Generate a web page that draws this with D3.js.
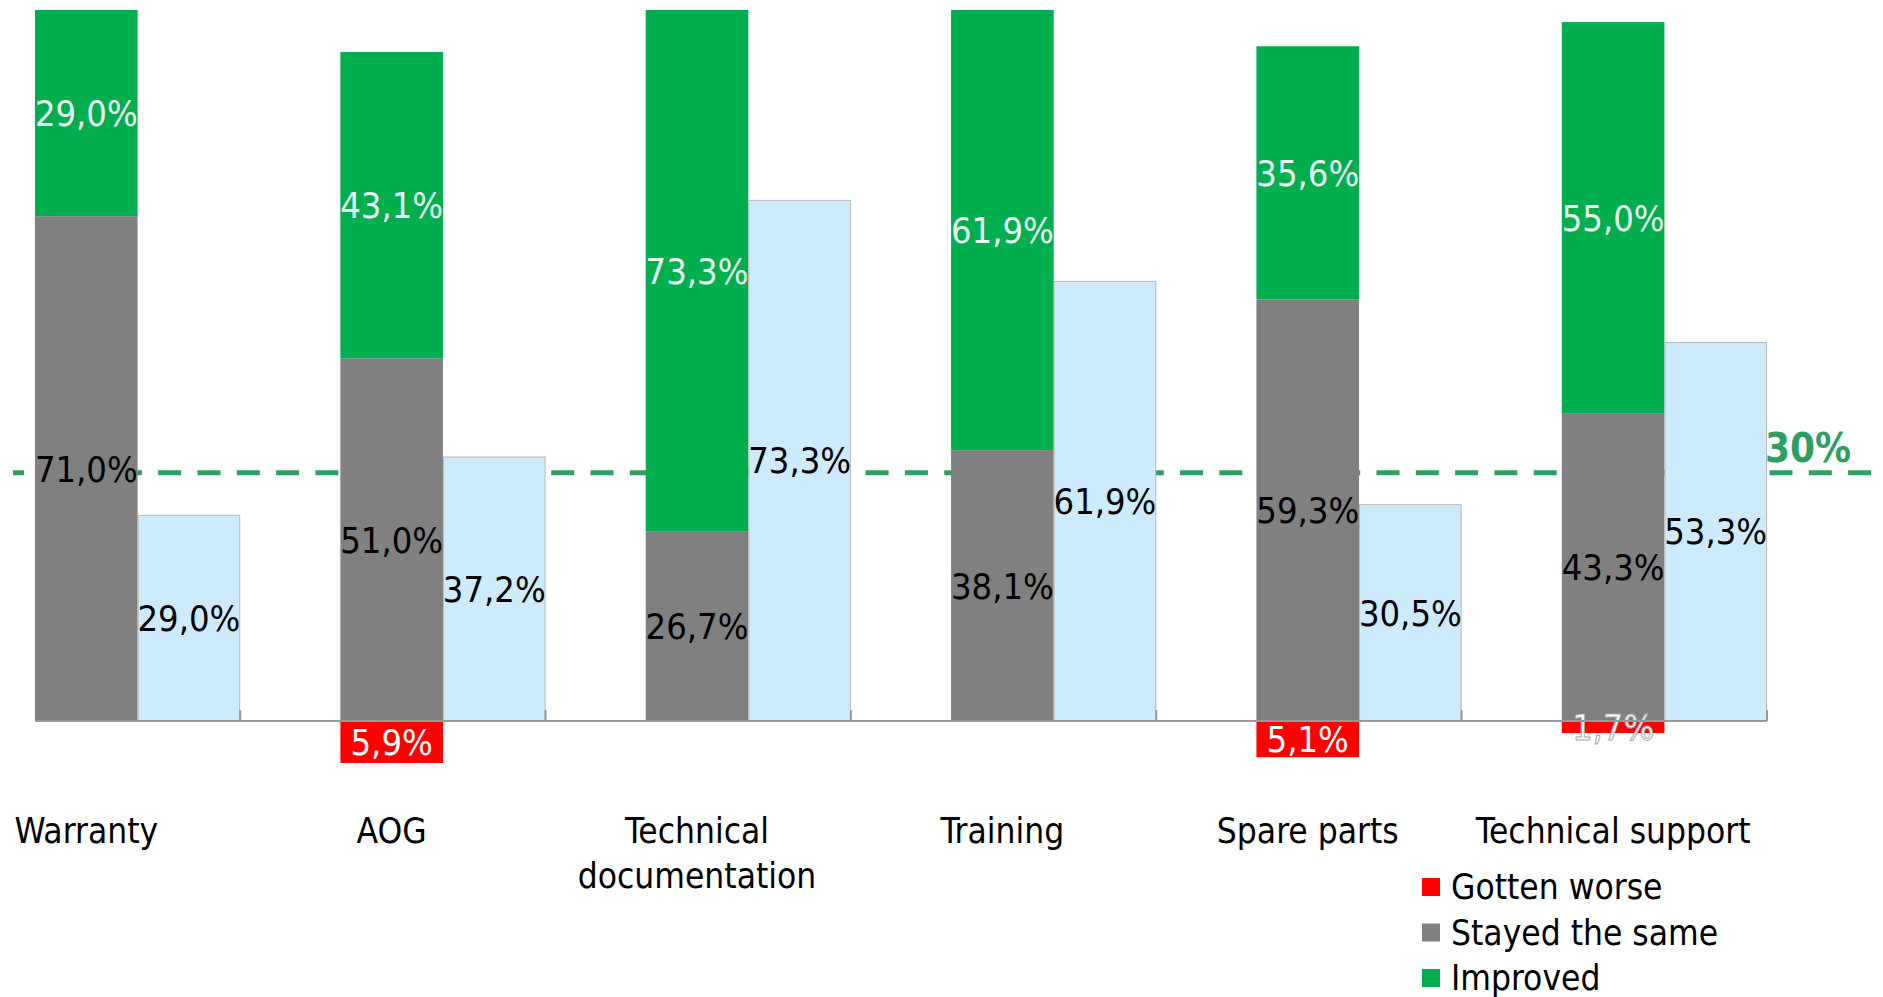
<!DOCTYPE html>
<html>
<head>
<meta charset="utf-8">
<script src="https://cdn.jsdelivr.net/npm/d3@7"></script>
<style>
	body { margin: 0; background: #fff; }
	svg text { font-family: "DejaVu Sans Condensed", "DejaVu Sans", sans-serif; }
</style>
</head>
<body>
<svg class="chart"></svg>
<script>
// chart values
const categories = ["Warranty", "AOG", "Technical documentation", "Training", "Spare parts", "Technical support"];
const gottenWorse = [0, 5.9, 0, 0, 5.1, 1.7];
const stayedSame = [71.0, 51.0, 26.7, 38.1, 59.3, 43.3];
const improved = [29.0, 43.1, 73.3, 61.9, 35.6, 55.0];
const netImproved = [29.0, 37.2, 73.3, 61.9, 30.5, 53.3];
const legendItems = ["Gotten worse", "Stayed the same", "Improved"];
const targetValue = 34.9;
const targetLabel = "30%";

const size = { w: 1883, h: 997 };
const colors = { worse: "#ff0000", same: "#808080", improved: "#00ad4f", net: "#cdebfc", target: "#2e9e62" };

const svg = d3.select("svg.chart").attr("width", size.w).attr("height", size.h);

const xScale = d3.scaleBand().domain(categories).range([35, 1767]).paddingInner(0.328).paddingOuter(0);
const subScale = d3.scaleBand().domain(["stack", "net"]).range([0, xScale.bandwidth()]);
const yScale = d3.scaleLinear().domain([0, 100]).range([721, 10]);

const locale = d3.formatLocale({ decimal: ",", thousands: ".", grouping: [3], currency: ["", "€"] });
const fmt = (v) => locale.format(".1f")(v) + "%";

const data = categories.map((c, i) => ({
	cat: c,
	worse: gottenWorse[i],
	same: stayedSame[i],
	improved: improved[i],
	net: netImproved[i],
}));

// target line (behind bars)
svg.append("line")
	.attr("x1", 13)
	.attr("x2", size.w)
	.attr("y1", yScale(targetValue))
	.attr("y2", yScale(targetValue))
	.attr("stroke", colors.target)
	.attr("stroke-width", 5)
	.attr("stroke-dasharray", "23 16.3")
	.attr("stroke-dashoffset", 12);

svg.append("text")
	.attr("x", 1765)
	.attr("y", yScale(targetValue) - 11)
	.attr("fill", colors.target)
	.attr("font-size", 40)
	.attr("font-weight", "bold")
	.text(targetLabel);

const barsG = svg.append("g").classed("bars", true);
const groups = barsG.selectAll("g")
	.data(data)
	.join("g")
	.attr("transform", (d) => `translate(${xScale(d.cat)},0)`);

const sx = subScale("stack");
const bw = subScale.bandwidth();

// stacked segments
groups.append("rect")
	.attr("x", sx).attr("width", bw)
	.attr("y", (d) => yScale(d.same))
	.attr("height", (d) => yScale(0) - yScale(d.same))
	.attr("fill", colors.same);

groups.append("rect")
	.attr("x", sx).attr("width", bw)
	.attr("y", (d) => yScale(d.same + d.improved))
	.attr("height", (d) => yScale(d.same) - yScale(d.same + d.improved))
	.attr("fill", colors.improved);

groups.filter((d) => d.worse > 0).append("rect")
	.attr("x", sx).attr("width", bw)
	.attr("y", yScale(0))
	.attr("height", (d) => yScale(-d.worse) - yScale(0))
	.attr("fill", colors.worse);

// net improvement bars
groups.append("rect")
	.attr("x", subScale("net") + 0.5).attr("width", bw - 1)
	.attr("y", (d) => yScale(d.net) + 0.5)
	.attr("height", (d) => yScale(0) - yScale(d.net) - 0.5)
	.attr("fill", colors.net)
	.attr("stroke", "#b8b8b8")
	.attr("stroke-width", 1);

// axis line + ticks
svg.append("line")
	.attr("x1", xScale.range()[0]).attr("x2", xScale.range()[1])
	.attr("y1", yScale(0)).attr("y2", yScale(0))
	.attr("stroke", "#999").attr("stroke-width", 2);

svg.selectAll("line.tick")
	.data(categories)
	.join("line")
	.classed("tick", true)
	.attr("x1", (d) => xScale(d) + xScale.bandwidth())
	.attr("x2", (d) => xScale(d) + xScale.bandwidth())
	.attr("y1", yScale(0))
	.attr("y2", yScale(0) - 11)
	.attr("stroke", "#999").attr("stroke-width", 2);

// value labels
const labelSize = 36;
function addLabel(sel, xPos, yMid, textFn, fill) {
	return sel.append("text")
		.attr("x", xPos)
		.attr("y", yMid)
		.attr("dy", "0.36em")
		.attr("text-anchor", "middle")
		.attr("font-size", labelSize)
		.attr("fill", fill)
		.text(textFn);
}

const cx = sx + bw / 2;
addLabel(groups, cx, (d) => (yScale(0) + yScale(d.same)) / 2, (d) => fmt(d.same), "#000");
addLabel(groups, cx, (d) => (yScale(d.same) + yScale(d.same + d.improved)) / 2, (d) => fmt(d.improved), "#eafbef");
addLabel(groups.filter((d) => d.worse > 0), cx, (d) => (yScale(0) + yScale(-d.worse)) / 2, (d) => fmt(d.worse), "#fff")
	.attr("stroke", (d) => (d.worse < 3 ? "#aaa" : "none"))
	.attr("stroke-width", 1);
addLabel(groups, subScale("net") + bw / 2, (d) => (yScale(0) + yScale(d.net)) / 2, (d) => fmt(d.net), "#000");

// category labels
const catLabels = groups.append("text")
	.attr("x", cx)
	.attr("y", 843)
	.attr("text-anchor", "middle")
	.attr("font-size", 35)
	.attr("fill", "#000")
	.text((d) => d.cat);

catLabels.each(function (d) {
	const el = d3.select(this);
	if (this.getComputedTextLength() > 300) {
		const words = d.cat.split(" ");
		el.text(null);
		words.forEach((w, i) => {
			el.append("tspan").attr("x", cx).attr("dy", i === 0 ? 0 : 45).text(w);
		});
	}
});

// legend
const legendColors = [colors.worse, colors.same, colors.improved];
const legend = svg.append("g")
	.selectAll("g")
	.data(legendItems)
	.join("g")
	.attr("transform", (d, i) => `translate(1422,${899 + i * 45.5})`);

legend.append("rect")
	.attr("x", 0).attr("y", -21)
	.attr("width", 18).attr("height", 18)
	.attr("fill", (d, i) => legendColors[i]);

legend.append("text")
	.attr("x", 29).attr("y", 0)
	.attr("font-size", 35)
	.attr("fill", "#000")
	.text((d) => d);
</script>
</body>
</html>
